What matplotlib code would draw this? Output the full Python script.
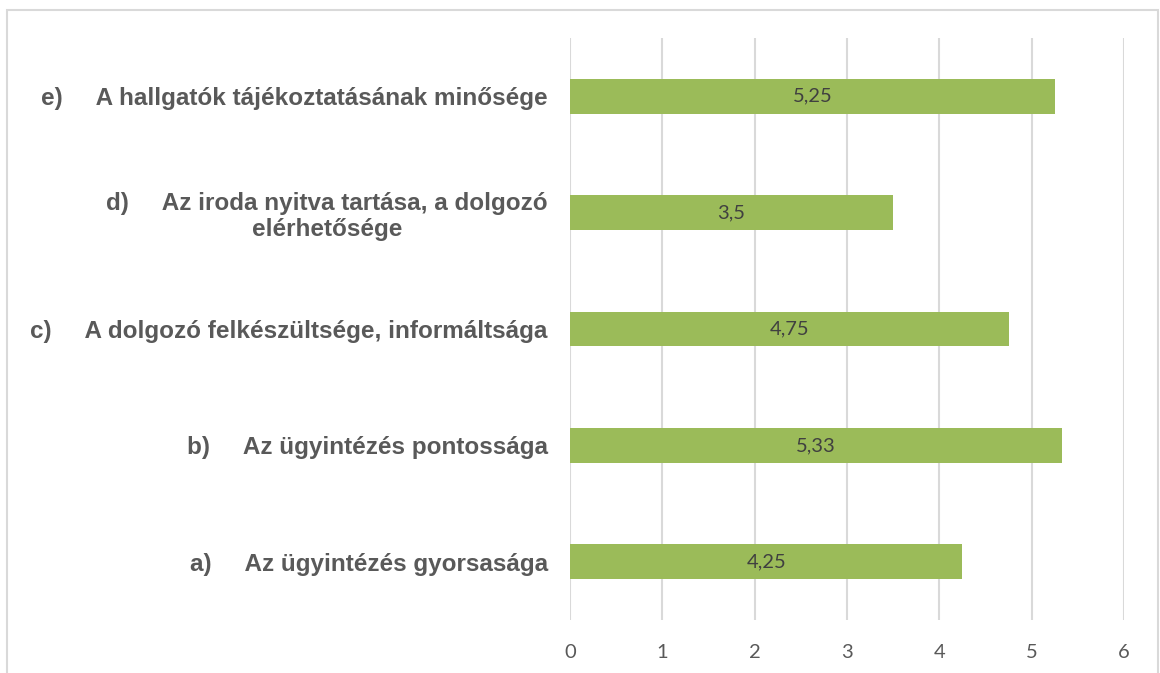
import matplotlib
import matplotlib.pyplot as plt
from matplotlib.patches import Rectangle

matplotlib.use("Agg")

# értékek alulról felfelé (a -> e)
labels = [
    "a)     Az ügyintézés gyorsasága",
    "b)     Az ügyintézés pontossága",
    "c)     A dolgozó felkészültsége, informáltsága",
    "d)     Az iroda nyitva tartása, a dolgozó\nelérhetősége",
    "e)     A hallgatók tájékoztatásának minősége",
]
values = [4.25, 5.33, 4.75, 3.5, 5.25]
value_texts = ["4,25", "5,33", "4,75", "3,5", "5,25"]
xticks = [0, 1, 2, 3, 4, 5, 6]

BAR = "#9BBB59"
GRID = "#D9D9D9"
TEXT = "#595959"

fig = plt.figure(figsize=(11.6, 6.73), dpi=100)
ax = fig.add_axes([570 / 1160, 1 - 620 / 673, (1124 - 570) / 1160, (620 - 38) / 673])

ypos = list(range(len(values)))
ax.barh(ypos, values, height=0.30, color=BAR, zorder=3)

for y, v, t in zip(ypos, values, value_texts):
    ax.text(v / 2, y, t, ha="center", va="center", fontsize=14.5,
            color="#404040", family="Lato", zorder=4)

ax.set_xlim(0, 6)
ax.set_ylim(-0.5, len(values) - 0.5)
ax.set_xticks(xticks)
ax.set_xticklabels([str(x) for x in xticks], fontsize=14.5, color=TEXT, family="Lato")
ax.set_yticks(ypos)
ax.set_yticklabels(labels, fontsize=17.5, fontweight="bold", color=TEXT,
                   family="Liberation Sans", multialignment="center",
                   linespacing=1.15)
ax.tick_params(axis="y", length=0, pad=16)
ax.tick_params(axis="x", length=0, pad=17)

ax.grid(True, axis="x", color=GRID, linewidth=1.5, zorder=0)
for s in ax.spines.values():
    s.set_visible(False)

# keret a diagram körül
fig.patches.append(Rectangle((7 / 1160, -0.05), (1158 - 7) / 1160, 1.05 - 10 / 673,
                             transform=fig.transFigure, fill=False,
                             edgecolor=GRID, linewidth=1.5))

fig.savefig("out.png", dpi=100)
plt.close(fig)
